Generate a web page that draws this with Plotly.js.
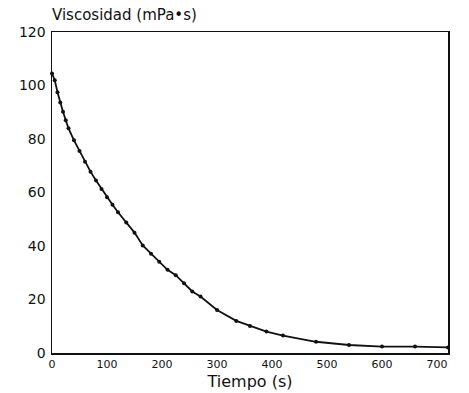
<!DOCTYPE html>
<html>
<head>
<meta charset="utf-8">
<script src="https://cdn.plot.ly/plotly-3.0.1.min.js"></script>
<style>html,body{margin:0;padding:0;background:#fff}#chart{width:469px;height:393px}</style>
</head>
<body>
<div id="chart"></div>
<script>
var tiempo = [0, 5, 10, 15, 20, 25, 30, 40, 50, 60, 70, 80, 90, 100, 110, 120, 135, 150, 165, 180, 195, 210, 225, 240, 255, 270, 300, 335, 360, 390, 420, 480, 540, 600, 660, 720];
var viscosidad = [104.5, 102, 97.5, 93.6, 90.2, 87, 84, 79.5, 75.5, 71.5, 67.8, 64.5, 61.3, 58.2, 55.4, 52.6, 48.8, 45, 40.2, 37.1, 34.1, 31.1, 29.1, 26.1, 23, 21.1, 16.1, 12, 10.1, 8, 6.5, 4.2, 3, 2.4, 2.4, 2.1];
var xTicks = [0, 100, 200, 300, 400, 500, 600, 700];
var yTicks = [0, 20, 40, 60, 80, 100, 120];

var FONT = "DejaVu Sans";
Plotly.newPlot('chart', [{
  x: tiempo, y: viscosidad, type: 'scatter', mode: 'lines+markers',
  line: {color: '#111', width: 1.8},
  marker: {color: '#111', size: 4},
  cliponaxis: false
}], {
  width: 469, height: 393,
  margin: {l: 52, r: 21, t: 32, b: 40},
  paper_bgcolor: '#fff', plot_bgcolor: '#fff',
  showlegend: false,
  title: {text: 'Viscosidad (mPa•s)', x: 0, xanchor: 'left', xref: 'paper', y: 1 - 15/393, yanchor: 'middle',
          font: {family: FONT, size: 15, color: '#111'}},
  xaxis: {range: [0, 720], tickvals: xTicks, ticktext: xTicks.map(String), showgrid: false, zeroline: false,
          showline: true, mirror: true, linecolor: '#111', linewidth: 1.5, ticks: '',
          tickfont: {family: FONT, size: 11, color: '#111'},
          title: {text: 'Tiempo (s)', font: {family: FONT, size: 16, color: '#111'}, standoff: 6}},
  yaxis: {range: [0, 120], tickvals: yTicks, ticktext: yTicks.map(String), showgrid: false, zeroline: false,
          showline: true, mirror: true, linecolor: '#111', linewidth: 1.5, ticks: '', ticklabelstandoff: 2,
          tickfont: {family: FONT, size: 14, color: '#111'}}
}, {displayModeBar: false, staticPlot: true});
</script>
</body>
</html>
